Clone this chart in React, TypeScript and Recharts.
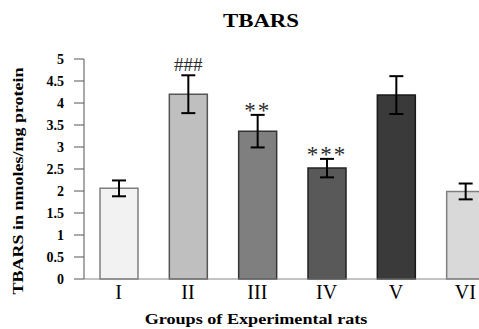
import React from "react";
import { BarChart, Bar, XAxis, YAxis, ErrorBar, Cell, LabelList } from "recharts";

const groups = ["I", "II", "III", "IV", "V", "VI"];
const tbars = [2.06, 4.2, 3.36, 2.52, 4.18, 1.99];
const sem = [0.18, 0.43, 0.37, 0.21, 0.43, 0.18];
const marks = ["", "###", "**", "***", "", ""];
const yTicks = [0, 0.5, 1, 1.5, 2, 2.5, 3, 3.5, 4, 4.5, 5];
const fills = ["#f2f2f2", "#bfbfbf", "#7f7f7f", "#595959", "#3a3a3a", "#d9d9d9"];
const strokes = ["#7f7f7f", "#555555", "#333333", "#222222", "#1a1a1a", "#7f7f7f"];

const data = groups.map((g, i) => ({ g, v: tbars[i], err: sem[i], mark: marks[i] }));

const serif = "'Liberation Serif', 'Times New Roman', serif";

const MarkLabel = (props: any) => {
  const { x, y, width, height, value, index } = props;
  if (!value) return null;
  const v = tbars[index];
  const e = sem[index];
  const pxPer = height / v;
  const top = y - e * pxPer;
  const isStar = String(value).includes("*");
  return (
    <text
      x={x + width / 2}
      y={isStar ? top + 3 : top - 4}
      textAnchor="middle"
      fontFamily={serif}
      fontSize={isStar ? 23 : 19}
      letterSpacing={isStar ? 2 : 0}
      fill="#2a2a2a"
    >
      {value}
    </text>
  );
};

export default function App() {
  return (
    <div
      style={{
        position: "absolute",
        left: 0,
        top: 0,
        width: 479,
        height: 329,
        overflow: "hidden",
        background: "#fff",
      }}
    >
      <div
        style={{
          position: "absolute",
          left: 261,
          top: 10,
          transform: "translateX(-50%) scaleX(1.2)",
          whiteSpace: "nowrap",
          fontFamily: serif,
          fontWeight: "bold",
          fontSize: 19,
          color: "#000",
        }}
      >
        TBARS
      </div>
      <div
        style={{
          position: "absolute",
          left: 256,
          top: 311,
          transform: "translateX(-50%) scaleX(1.25)",
          whiteSpace: "nowrap",
          fontFamily: serif,
          fontWeight: "bold",
          fontSize: 14.5,
          color: "#000",
        }}
      >
        Groups of Experimental rats
      </div>
      <div
        style={{
          position: "absolute",
          left: 18,
          top: 181,
          transform: "translate(-50%, -50%) rotate(-90deg) scaleX(1.2)",
          whiteSpace: "nowrap",
          fontFamily: serif,
          fontWeight: "bold",
          fontSize: 15,
          color: "#000",
        }}
      >
        TBARS in nmoles/mg protein
      </div>
      <div style={{ position: "absolute", left: 0, top: 0 }}>
        <BarChart
          width={510}
          height={329}
          data={data}
          margin={{ top: 59, right: 10, bottom: 20, left: 34 }}
        >
          <XAxis
            dataKey="g"
            height={30}
            tickLine={false}
            axisLine={{ stroke: "#888", strokeWidth: 1 }}
            tick={{ fontFamily: serif, fontSize: 20, fill: "#000" }}
            tickMargin={0}
          />
          <YAxis
            width={50}
            domain={[0, 5]}
            ticks={yTicks}
            interval={0}
            tickSize={10}
            tickMargin={10}
            axisLine={{ stroke: "#555", strokeWidth: 1 }}
            tickLine={{ stroke: "#555", strokeWidth: 1 }}
            tick={{ fontFamily: serif, fontSize: 14, fontWeight: "bold", fill: "#000" }}
          />
          <Bar dataKey="v" barSize={38} isAnimationActive={false} strokeWidth={1.5}>
            {data.map((d, i) => (
              <Cell key={d.g} fill={fills[i]} stroke={strokes[i]} />
            ))}
            <ErrorBar dataKey="err" width={7} stroke="#000" strokeWidth={2} direction="y" />
            <LabelList dataKey="mark" content={MarkLabel} />
          </Bar>
        </BarChart>
      </div>
    </div>
  );
}
